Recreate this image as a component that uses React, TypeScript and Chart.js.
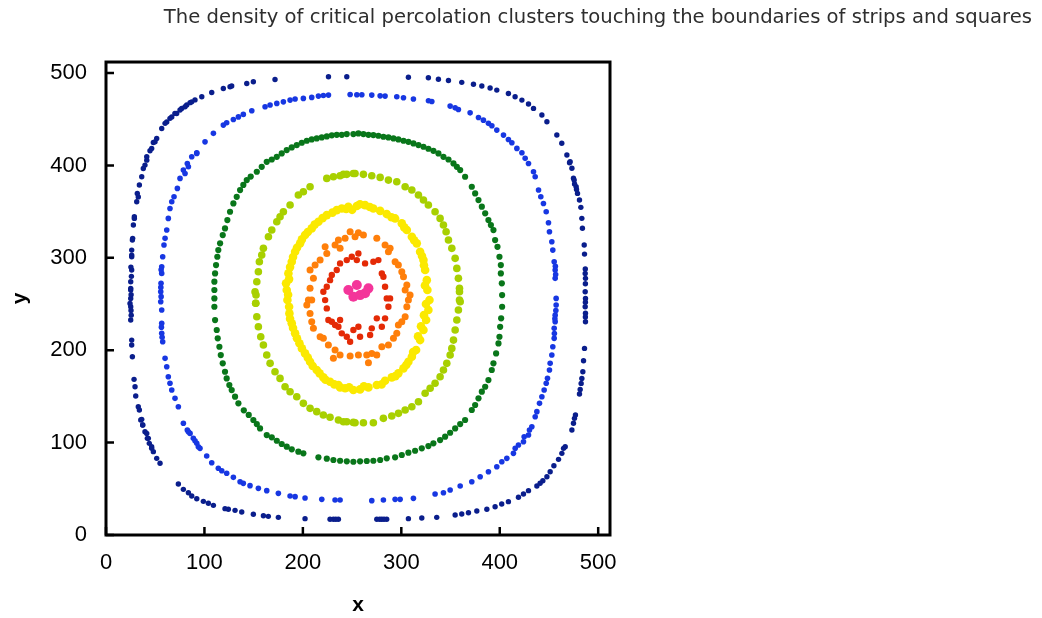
import React, { useEffect, useRef } from 'react';
import { Chart, registerables } from 'chart.js';

Chart.register(...registerables);

const TITLE = 'The density of critical percolation clusters touching the boundaries of strips and squares';
const X_LABEL = 'x';
const Y_LABEL = 'y';
const AXIS_MIN = 0;
const AXIS_MAX = 512;
const TICK_STEP = 100;

type P = [number, number];

// outermost contour (navy)
const ringNavy: P[] = [
  [44.7,415.9],[41.4,405.8],[39.6,400.4],[36.3,387.8],[33.9,378.8],[31.8,369.8],[31.2,360.7],[28.8,344.5],[27.8,335.5],[27.1,321.1],[26.1,308.4],[26.1,301.2],[26.1,286.8],[25.1,274.2],[25.1,265.2],[25.1,256.1],[25.1,247.1],[25.1,232.7],[26.1,211],[26.1,205.6],[26.8,193],[28.5,168.5],[29.5,160.5],[30.2,150.4],[32.8,138.9],[33.9,135.3],[36.3,125.2],[37.3,119],[39.6,111.8],[42,104.6],[44,99.2],[46.4,93.8],
  [24.4,250.7],[25.1,267],[25.3,290],[26.1,303],[26.8,319.3],[28.8,342.7],[32.8,366],[37.9,396.8],[41.4,409.4],[48.1,424.9],[51.5,429.2],[56.6,440],[61.7,447.2],[66.8,452.6],[71.8,456.3],[76.9,461.8],[82,465.4],[87.1,468.9],[97.3,474.4],[107.4,479],[119.2,483.4],[126,485.2],[143,488.8],[149.7,490.6],[171.7,493.1],[226,496],[244.6,496],
  [25.5,260],[25.8,280],[25.4,243],[25.6,238],
  [46.4,418.5],[49.8,425.6],[60,445.6],[65,451],[70,456.4],[75.2,460],[80.3,463.5],[85.4,468],[90.4,471],[127.7,486],
  [307.2,495.5],[327.5,495],[337.7,493.3],[347.9,492],[361.4,490],[373.3,488],[381.8,486],[390.2,483.8],[397,481.6],[408.8,478],[415.6,474.4],[422.5,470.8],[429.2,466.5],[434.3,461.8],[442.8,454.6],[447.9,447.4],[458,433],[463,424],[468.2,411.3],[471.5,404],[473.3,397],[474.9,386.3],
  [470.9,403],[475.6,384.2],[477.6,377],[479,369.8],[481,362.6],[482.4,354.7],[483.4,342.8],[484,332],[485.8,313.9],[486.1,304.1],[486.8,283.2],[487.1,277.8],[486.8,263.3],[487.1,256.1],[486.8,247.1],[487.1,240],[487.1,230.9],[486.1,202],[485.1,188.6],[484.4,176.7],[483.4,169.5],[482.7,164.1],[481.7,157.6],[481,152.6],[476.9,129.9],[475.9,126.3],[474.9,120.9],[473.3,113.6],[466.5,95.6],
  [486.9,288],[487,272],[487,252],[487,236],[476,380],[478,374],
  [464.8,93.8],[463.1,88.4],[459.7,81.9],[451.2,68.5],[447.9,63.1],[443.8,58.8],[437.7,53],[429.2,48],[424.1,44.4],[419,40.8],[408.8,36.1],[402,33.5],[395.3,30.6],[386.9,27.8],[376.7,26],[368.2,24.1],[361.4,22.7],[354.7,21.6],[336,19.1],[320.8,18.4],[307.2,17.7],[285.2,17],[280.2,17],[275.1,17],[236.1,17],[231,17],[227.6,17],[202.2,17.7],[175.1,19.1],[164.9,20.2],[159.9,20.9],[149.7,22.4],[137.9,24.9],[131.1,26.7],[124.3,27.8],[120.9,28.5],[109.1,32.1],[104,34.3],[98.9,36.4],[92.2,39.3],[87.1,42.2],[83.7,45.8],[78.6,49.4],[73.5,55.2],[54.9,77.6],[51.5,83],[48.1,90.2],[46.4,95.6],[43,104.6],[41.4,110],[37.3,119],[35.3,124.5],
  [282.5,17],[233.5,17],[278,17],[455,75],[441,56],
];

// second contour (blue)
const ringBlue: P[] = [
  [75.2,386],[78.6,395],[82.6,402.2],[87.1,409.4],[92.2,413.8],[100.6,425.6],[109.1,434.8],[119.2,443.7],[122.6,446.2],[129.4,449.8],[134.5,452.6],[139.5,455.3],[148.1,459.2],[161.6,463.5],[166.7,465.4],[173.5,467.2],[180.2,468.9],[187,470.8],[192.1,471.9],[200.5,472.6],[209,473.7],[215.8,475.1],[220.8,475.8],[226,476.2],[248,476.9],[254.8,476.6],[259.9,476.6],[270,476.2],[278.5,475.4],[283.5,475.1],[295.4,474.4],[302.2,473.3],[312.3,471.9],[327.6,470.1],[331,469.3],[349.6,464.3],[354.7,462.4],[358,460.6],[369.9,457],[378.4,452],[383.4,449.1],[388.5,445.6],[392,443],[397,438.3],[403.8,432.9],[408.8,428.2],[412.3,424.6],[417.4,418.5],[422.5,413.8],[425.8,407.7],[429.2,402.2],[434.3,393.2],[436,387.8],
  [439.4,373.4],[441.7,366.1],[444.4,358.9],[447.2,349.9],[449.5,338],[450.5,328.3],[452.9,317.5],[453.9,308.4],[455.3,295.8],[456.3,286.8],[456.3,277.8],[457.3,256.1],[457.3,248.9],[456.3,238],[456.3,230.9],[455.3,223.7],[455.3,212.9],[453.9,203.8],[452.9,194.8],[451.2,185.8],[450.5,178.6],[448.5,169.6],[447.2,164.2],[445.1,156.9],[442.8,149.7],[440.4,142.5],[437.7,133.5],[436,128],[432.6,117.2],[430.2,113.6],[424.8,106.4],[419,97.4],[415.7,93.8],
  [456.8,282],[456.5,291],[457,243],[456,234],[455.5,218],
  [429.2,108.2],[424.1,101],[413.9,88.4],[407.2,83],[402.1,79.3],[397,73.9],[388.5,68.5],[380.1,63.1],[371.6,57.7],[359.8,53],[349.6,48.7],[342.8,45.8],[334.3,44.4],[312.3,39.7],[298.8,38.6],[293.7,38.6],[281.8,37.9],[270,37.2],[237.8,37.9],[232.7,37.9],[219.2,38.6],[202.2,40],[192.1,41.5],[187,42.2],[175.1,45.1],[163.3,48],[154.8,50.5],[146.3,53.4],[139.5,55.9],[136.2,57.7],[129.4,62.4],[122.6,66.8],[117.6,69.6],[114.1,72.2],[107.4,78.2],[102.3,85.5],[95.5,93.8],[92.2,99.2],[90.4,102],[85.4,110],[82.6,113.6],[78.6,120.9],
  [92.2,413.1],[83.7,398.6],[80.3,391.4],[72.5,375.2],[69.1,366.1],[66.8,360.7],[65,353.5],[63.3,342.7],[61.7,330.1],[60,321.1],[58.9,313.9],[57.6,301.2],[56.6,290.4],[56.6,283.2],[55.9,272.4],[55.6,263.3],[55.6,252.5],[56.6,243.5],[56.6,229.1],[56.6,218.3],[57.6,209.2],[60,191.2],[61.7,182.2],[63.3,171.3],[65,164.2],[66.8,156.9],[70.1,147.9],[73.5,138.9],[83.7,111.8],[88.7,104.6],[93.8,95.6],
  [56,287],[55.7,268],[56,258],[56.3,225],[57,214],
];

// third contour (green)
const ringGreen: P[] = [
  [143,384.2],[153.2,393.2],[158.2,398.6],[163.3,404],[168.4,406.5],[173.5,409.4],[178.5,413.1],[183.6,416.7],[188.7,419.6],[193.8,422.1],[198.9,424.6],[204,426.8],[209,428.2],[214.1,429.3],[219.2,430.4],[224.3,431.5],[229.4,432.6],[234.4,433.2],[239.5,433.2],[244.6,434],[251.3,434],[256.4,434.7],[261.5,434],[266.6,433.2],[271.6,432.9],[276.7,432.2],[281.8,431.1],[286.9,430.4],[292,429.3],[297,428.2],[302.2,426.8],[307.2,425.6],[312.3,423.9],[317.4,422.1],[322.5,420.3],[327.5,418.1],[332.6,415.9],[337.7,413.1],[342.8,409.4],[347.9,406.5],[353,402.2],[356.4,398.6],[359.8,395],[364.8,387.8],
  [371.6,377],[375,369.8],[378.4,362.6],[381.8,355.4],[385.2,348.2],[388.5,340.9],[391,335.5],[393.6,330.1],[395.3,319.3],[397.7,312],[399.7,301.2],[401.1,292.2],[401.1,283.2],[402.1,272.4],[402.4,259.7],[402.4,247.1],[401.4,234.5],[400.4,225.4],[399.7,214.6],[398.7,207.4],[396.3,196.6],[393.6,185.8],[391.9,178.6],[388.5,167.7],[385.2,160.5],[381.8,155.1],[378.4,147.9],[375,140.7],[371.6,135.3],
  [364.8,124.5],[359.8,120.1],[354.7,115.4],[349.6,110.7],[344.5,106.4],[339.4,102.8],[332.6,99.2],[327.5,96.3],[320.8,93.8],[314,91.2],[307.2,89.1],[300.5,86.6],[293.7,84.1],[285.2,83],[278.5,81.2],[271.6,80.4],[264.9,80.1],[258.1,79.7],[251.3,79.3],[244.6,79.7],[237.8,80.4],[231,81.2],[224.3,82.6],[215.8,84.1],[200.5,88.4],[195.4,90.2],[188.7,92.7],[183.6,95.6],[178.5,98.5],[173.5,102],[168.4,105.7],[163.3,108.2],[156.5,115.4],[153.2,120.1],[149.7,124.5],
  [136.2,373.4],[132.8,366.1],[129.4,358.9],[126,349.9],[123.3,340.9],[120.9,331.9],[118.6,324.7],[115.9,315.7],[114.1,308.4],[113.1,301.2],[111.8,292.2],[110.8,283.2],[110.1,274.2],[110.1,265.2],[110.1,256.1],[110.1,247.1],[110.8,232.7],[112.5,221.9],[113.5,212.9],[115.2,203.8],[116.6,194.8],[118.6,185.8],[120.9,176.7],[122.6,169.5],[125.3,162.3],[127.7,156.9],[131.1,149.7],[134.5,142.5],
  [140,135],[145,130],[139.5,379],[147,388],
];

// fourth contour (yellow-green)
const ringLime: P[] = [
  [224.3,386],[231,387.8],[241.2,390.4],[251.3,391.4],[207.3,377],[200.5,371.6],[195.4,368],[187,357.2],[180.2,349.9],[176.8,344.5],[173.5,339.1],[168.4,330.1],[165,322.9],[159.9,310.3],[158.2,303],[155.8,295.8],[154.8,285],[153.2,274.2],[152.4,259.8],[152.1,250.8],
  [237.8,388.9],[244.6,390.4],[253,391.4],[261.5,390.4],[270,388.9],[278.5,387.1],[286.9,384.2],[295.4,382.4],[303.9,377],[310.7,373.4],[317.4,368],[322.5,362.6],[327.5,357.2],[334.3,349.9],[339.4,342.7],[342.8,335.5],[345.5,328.3],[347.9,319.3],[351.3,310.3],[354.7,299.5],[356.4,288.6],[358,277.8],[359.1,267],[359.8,252.5],
  [359.1,263.3],[359.1,254.3],[358,243.5],[356.4,232.7],[354.7,221.9],[353,211],[351.3,202],[349.6,194.8],[346.2,185.8],[342.8,178.6],[339.4,171.3],[334.3,164.2],[329.3,158.8],[324.2,153.4],[317.4,144.3],[310.7,138.9],[303.9,135.3],[297.1,131.7],[290.3,128.8],[281.8,126.3],[271.6,121.5],[261.5,121.5],[251.3,121.9],[241.2,122.6],
  [151.4,263.3],[152.1,250.8],[153.2,236.3],[154.8,225.4],[157.2,214.6],[159.9,205.6],[163.3,194.8],[166.7,185.8],[171.7,176.7],[176.8,169.5],[181.9,160.5],[187,155.1],[193.8,149.7],[200.5,142.5],[207.3,137.1],[214.1,133.5],[220.8,129.9],[227.6,127.4],[236.1,124.5],[244.6,122.6],[253,121.5],
];

// fifth contour (yellow)
const ringYellow: P[] = [
  [234.4,351.7],[239.5,353.5],[246.2,355.3],[254.8,356.1],[263.2,357.1],[271.6,353.5],[278.5,350.9],[285.2,347.4],[293.7,342.7],[300.5,337.3],[305.6,330.1],[310.7,322.9],[315.7,315.7],[319.1,306.6],[322.5,297.6],[324.2,286.8],[325.9,275.9],[326.5,265.2],[328.6,254.3],[327.5,243.5],[325.2,232.7],[322.5,221.9],[319.1,211],[315,200.2],[310.7,193],[307.2,187.6],[302.2,180.4],[297,175],[290.3,170.6],[283.5,167],[275.1,162.3],[266.6,159.8],[258.1,157.6],[251.3,156.9],[242.9,158.8],[237.8,159.8],[236.1,162.3],[227.6,165.9],[220.8,170.6],[214.1,178.6],[207.3,187.6],[202.2,196.6],[196.5,207.5],[192.1,218.3],[188.7,229.1],[186.3,239.9],[184.3,254.3],[183.6,265.2],[182.9,272.4],[185.3,283.2],[188.7,295.8],[192.1,306.6],[197.2,315.7],[202.2,324.7],[209,331.9],[215.8,339.1],[224.3,346.3],
  [230,349],[250,352],[268,355],[290,344],[303,333],[313,319],[321,302],[323,292],[324,270],[325,250],[323,238],[320,226],[317,215],[312,198],[305,184],[294,172],[280,163],[262,161],[247,160],[232,163],[223,168],[217,175],[210,183],[205,192],[199,202],[194,213],[190,224],[187,234],[186,247],[185,260],[186,277],[187,290],[190,301],[194,311],[199,320],[205,328],[212,336],[220,343],[258,358],[244,353],
];

// sixth contour (orange)
const ringOrange: P[] = [
  [248,328.3],[256.4,327.2],[261.5,324.7],[253,322.9],[242.9,321.1],[236.1,319.3],[232.7,313.9],[237.8,310.3],[224.3,304.8],[222.6,312],[217.5,297.6],[212.4,292.2],[207.3,286.8],[210.7,277.8],[207.3,267],[205.6,254.3],[209,254.3],[204,248.9],[207.3,239.9],[209,230.9],[210.7,223.7],[217.5,214.6],[220.8,212.9],[225.9,205.6],[232.7,200.2],[237.8,194.8],[248,193.7],[256.4,194.8],[264.9,194.8],[270,196.6],[275.1,194.8],[266.6,186.5],[231,191.2],[280.2,203.8],[286.9,205.6],[292,212.9],[295.4,218.3],[297,227.3],[300.5,230.9],[303.9,236.3],[305.6,247.1],[307.2,254.3],[308.9,259.7],[303.9,265.2],[305.6,270.6],[302.2,279.5],[300.5,284.9],[297,292.2],[293.7,295.8],[286.9,306.6],[283.5,313.9],[288.6,310.3],[275.1,321.1],
];

// seventh contour (red)
const ringRed: P[] = [
  [237.8,294],[244.6,297.6],[249.7,301.2],[256.4,304.8],[254.8,297.6],[263.2,294],[271.6,295.8],[276.7,297.6],[234.4,286.8],[229.4,281.4],[227.6,275.9],[224.3,268.7],[220.8,263.3],[222.6,254.3],[224.3,245.3],[225.9,232.7],[229.4,230.9],[232.7,227.3],[236.1,225.5],[239.5,218.3],[244.6,214.6],[248,209.2],[251.3,221.9],[258.1,214.6],[256.4,225.5],[268.3,216.5],[270,223.7],[275.1,234.5],[280.2,225.5],[283.5,234.5],[286.9,247.1],[285.2,256.1],[288.6,256.1],[283.5,268.7],[281.8,279.5],[280.2,283.2],[237.8,232.7],
];

// innermost cluster (pink)
const ringPink: P[] = [
  [246.2,265.2],[254.8,270.6],[266.6,267],[251.3,258],[258.1,259.7],[263.2,261.6],
];

const SERIES = [
  { name: 'r1', pts: ringNavy, color: '#0a1e8c', r: 2.7 },
  { name: 'r2', pts: ringBlue, color: '#1737e2', r: 2.8 },
  { name: 'r3', pts: ringGreen, color: '#09761a', r: 3.1 },
  { name: 'r4', pts: ringLime, color: '#a8d000', r: 3.8 },
  { name: 'r5', pts: ringYellow, color: '#fbe900', r: 4.3 },
  { name: 'r6', pts: ringOrange, color: '#ff7f0a', r: 3.5 },
  { name: 'r7', pts: ringRed, color: '#e42a06', r: 3.2 },
  { name: 'r8', pts: ringPink, color: '#f4359a', r: 5 },
];

const framePlugin = {
  id: 'frameAndTicks',
  afterDraw(chart: any) {
    const { ctx, chartArea: a, scales } = chart;
    ctx.save();
    ctx.strokeStyle = '#000';
    ctx.lineWidth = 3;
    ctx.strokeRect(a.left, a.top, a.right - a.left, a.bottom - a.top);
    ctx.lineWidth = 2.5;
    ctx.beginPath();
    for (const t of scales.x.ticks) {
      const px = scales.x.getPixelForValue(t.value);
      ctx.moveTo(px, a.bottom);
      ctx.lineTo(px, a.bottom - 8);
    }
    for (const t of scales.y.ticks) {
      const py = scales.y.getPixelForValue(t.value);
      ctx.moveTo(a.left, py);
      ctx.lineTo(a.left + 8, py);
    }
    ctx.stroke();
    ctx.restore();
  },
};

export default function App() {
  const ref = useRef<HTMLCanvasElement | null>(null);
  useEffect(() => {
    if (!ref.current) return;
    const font = "'Liberation Sans', Arial, sans-serif";
    const chart = new Chart(ref.current, {
      type: 'scatter',
      data: {
        datasets: SERIES.map((s) => ({
          label: s.name,
          data: s.pts.map(([x, y]) => ({ x, y })),
          backgroundColor: s.color,
          borderWidth: 0,
          pointRadius: s.r,
          pointHoverRadius: s.r,
        })),
      },
      options: {
        responsive: false,
        animation: false,
        layout: { padding: { left: 0, right: 10, top: 0, bottom: 0 } },
        plugins: {
          legend: { display: false },
          tooltip: { enabled: false },
          title: {
            display: true,
            text: TITLE,
            align: 'end',
            color: '#2e2e2e',
            font: { family: "'DejaVu Sans', sans-serif", size: 19.6, weight: 'normal' },
            padding: { top: 6, bottom: 32.5 },
          },
        },
        scales: {
          x: {
            type: 'linear',
            min: AXIS_MIN,
            max: AXIS_MAX,
            grid: { display: false, drawTicks: false },
            border: { display: false },
            ticks: { stepSize: TICK_STEP, includeBounds: false, color: '#000', padding: 15, font: { family: font, size: 22 } },
            title: { display: true, text: X_LABEL, color: '#000', font: { family: font, size: 21, weight: 'bold' }, padding: { top: 0, bottom: 0 } },
            afterFit: (s: any) => { s.height = 83; },
          },
          y: {
            type: 'linear',
            min: AXIS_MIN,
            max: AXIS_MAX,
            grid: { display: false, drawTicks: false },
            border: { display: false },
            ticks: { stepSize: TICK_STEP, includeBounds: false, color: '#000', padding: 19, font: { family: font, size: 22 } },
            title: { display: true, text: Y_LABEL, color: '#000', font: { family: font, size: 21, weight: 'bold' }, padding: { top: 8, bottom: 0 } },
            afterFit: (s: any) => { s.width = 106; },
          },
          pad: {
            type: 'linear',
            position: 'right',
            display: true,
            grid: { display: false, drawTicks: false },
            border: { display: false },
            ticks: { display: false },
            afterFit: (s: any) => { s.width = 422; },
          },
        },
      },
      plugins: [framePlugin],
    } as any);
    return () => chart.destroy();
  }, []);
  return (
    <div style={{ position: 'absolute', left: 0, top: 0, width: 1042, height: 618, background: '#fff' }}>
      <canvas ref={ref} width={1042} height={618} />
    </div>
  );
}
